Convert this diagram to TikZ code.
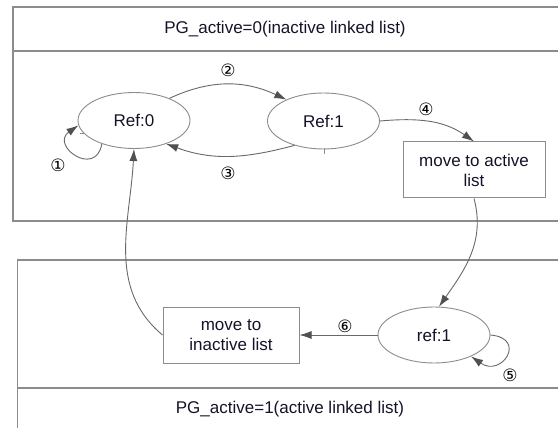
\documentclass[tikz,border=0pt]{standalone}
\usepackage{fontspec}
\setmainfont{Liberation Sans}
\newfontfamily\circfont{DejaVu Sans}
\usetikzlibrary{shapes.geometric,arrows.meta}
\definecolor{framegray}{RGB}{140,140,140}
\definecolor{linegray}{RGB}{105,105,105}
\definecolor{headgray}{RGB}{80,80,80}
\definecolor{txt}{RGB}{20,20,40}
\begin{document}
\begin{tikzpicture}[x=1pt,y=-1pt,
  frame/.style={draw=framegray,line width=1.3pt},
  state/.style={ellipse,draw=framegray,line width=0.9pt,minimum width=112pt,minimum height=56pt,inner sep=0pt,font=\fontsize{17}{20}\selectfont,text=txt},
  action/.style={rectangle,draw=framegray,line width=1pt,minimum height=56pt,inner sep=0pt,align=center,font=\fontsize{17}{20}\selectfont,text=txt},
  title/.style={font=\fontsize{17}{20}\selectfont,text=txt,inner sep=0pt},
  arc/.style={draw=linegray,line width=0.9pt,-{Latex[length=12pt,width=8pt,color=headgray]}},
  num/.style={font=\circfont\fontsize{17}{17}\selectfont,inner sep=0pt,text=black},
  tick/.style={draw=framegray,line width=0.8pt},
]
\clip (0,0) rectangle (558,428);
\fill[white] (0,0) rectangle (558,428);
% frames
\draw[frame] (13,7) rectangle (580,51);
\draw[frame] (13,51) rectangle (580,221);
\draw[frame] (17.5,260) rectangle (580,388);
\draw[frame] (17.5,388) rectangle (580,450);
\node[title] (h0) at (285,29) {PG\_active=0(inactive linked list)};
\node[title] (h1) at (290,409) {PG\_active=1(active linked list)};
% states
\node[state] (r0) at (134,120.5) {Ref:0};
\node[state] (r1) at (323.5,121) {Ref:1};
\node[state] (r2) at (434,335) {ref:1};
\node[action,minimum width=142pt] (act) at (474,170) {move to active\\list};
\node[action,minimum width=136pt] (inact) at (231,335) {move to\\inactive list};
% connectors
\draw[arc] (r0.32) to[out=25,in=155] (r1.150);
\draw[arc] (r1.220) to[out=195,in=-20] (r0.-36);
\draw[arc] (r0.216) to[out=-100,in=215,looseness=3] (r0.185);
\draw[arc] (r1.0) to[out=5,in=145] (act.north);
\draw[arc] (act.south) to[out=-75,in=55] (r2.80);
\draw[arc] (r2.west) -- (inact.east);
\draw[arc] (r2.east) to[out=-5,in=-35,looseness=3.3] (r2.-30);
\draw[arc] (inact.west) to[out=140,in=-93] (r0.south);
% small marks
\coordinate (t1a) at (324,148.5);
\coordinate (t1b) at (324,154);
\draw[tick] (t1a) -- (t1b);
\coordinate (t0a) at (80,133);
\coordinate (t0b) at (85,133);
\draw[tick] (t0a) -- (t0b);
% labels
\node[num] (n1) at (58,165) {①};
\node[num] (n2) at (228,70) {②};
\node[num] (n3) at (228,173) {③};
\node[num] (n4) at (426,109) {④};
\node[num] (n5) at (510,375) {⑤};
\node[num] (n6) at (345,326) {⑥};
\end{tikzpicture}
\end{document}
